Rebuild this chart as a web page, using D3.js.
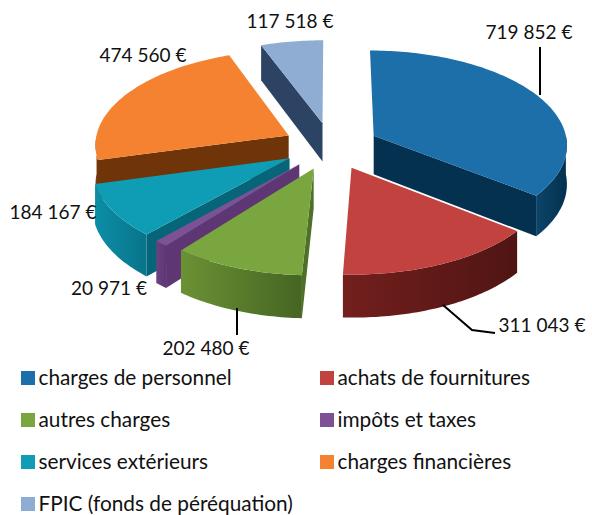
<!DOCTYPE html>
<html>

<head>
    <meta charset="utf-8">
    <script src="https://d3js.org/d3.v7.min.js"></script>
    <style>
        body {
            margin: 0;
            background-color: #ffffff;
        }

        text {
            font-family: Lato, "Open Sans", sans-serif;
            font-size: 19px;
            fill: #111111;
        }

        .legend text {
            font-size: 20.8px;
        }
    </style>
</head>

<body>
    <svg id="canvas" width="592" height="515"></svg>
    <script>
        const categories = ['charges de personnel', 'achats de fournitures', 'autres charges', 'impôts et taxes',
            'services extérieurs', 'charges financières', 'FPIC (fonds de péréquation)'];
        const values = [719852, 311043, 202480, 20971, 184167, 474560, 117518];

        const topColors = ['#1c6fa9', '#c2423f', '#7aa63f', '#7c5295', '#0e9db5', '#f58231', '#8fadd3'];
        const rimLight = ['#0d4468', '#731f1d', '#6b9135', '#6b4282', '#0c8ea6', '#8a4210', '#2f4568'];
        const rimDark = ['#03314f', '#4f1513', '#456522', '#5d3673', '#07748a', '#6f3408', '#2f4568'];
        const wallColors = ['#03314f', '#5a1816', '#4f7028', '#5d3673', '#066578', '#6f3408', '#2d4364'];

        //label anchors, same order as the values
        const labelX = [529, 542, 206, 109, 53, 143, 290];
        const labelY = [39, 332, 355, 295, 219, 62, 28];

        //leader lines for the labels that have one
        const leaders = [
            [[540, 47], [540, 95]],
            [[443, 305], [472, 330], [495, 333]],
            [[237, 308], [237, 335]]
        ];

        const CX = 331;
        const CY = 146;
        const RADIUS = 194;
        const EXPLODE = 48;
        const TILT = 0.49;
        const PERSPECTIVE = 0.085;
        const DEPTH = 39;

        const svg = d3.select('#canvas');
        const defs = svg.append('defs');
        const line = d3.line();
        const euro = d3.formatLocale({ thousands: ' ', grouping: [3], decimal: ',', currency: ['', ' €'] }).format(',');

        //project a point of the pie plane to the screen, things at the front get a bit bigger
        function project(px, py, h) {
            const s = 1 + PERSPECTIVE * py / RADIUS;
            return [CX + px * s, CY + TILT * py * s + h * s];
        }

        function rimPoint(d, a, h) {
            const mid = (d.startAngle + d.endAngle) / 2;
            return project(
                EXPLODE * Math.sin(mid) + RADIUS * Math.sin(a),
                -EXPLODE * Math.cos(mid) - RADIUS * Math.cos(a),
                h
            );
        }

        function apex(d, h) {
            const mid = (d.startAngle + d.endAngle) / 2;
            return project(EXPLODE * Math.sin(mid), -EXPLODE * Math.cos(mid), h);
        }

        function arcPoints(d, from, to, h) {
            const n = Math.max(2, Math.ceil((to - from) / 0.02));
            return d3.range(n + 1).map(i => rimPoint(d, from + (to - from) * i / n, h));
        }

        const slices = d3.pie().sort(null).value(d => d)(values);

        //back to front
        const order = d3.range(slices.length).sort((a, b) => {
            const ma = (slices[a].startAngle + slices[a].endAngle) / 2;
            const mb = (slices[b].startAngle + slices[b].endAngle) / 2;
            return -Math.cos(ma) - -Math.cos(mb);
        });

        order.forEach(i => {
            const d = slices[i];
            const g = svg.append('g');

            const grad = defs.append('linearGradient').attr('id', 'rim' + i);
            grad.append('stop').attr('offset', '0%').attr('stop-color', rimLight[i]);
            grad.append('stop').attr('offset', '100%').attr('stop-color', rimDark[i]);

            //radial walls
            [d.startAngle, d.endAngle].forEach((a, k) => {
                const facing = k === 0 ? Math.sin(a) < 0 : Math.sin(a) > 0;
                if (!facing) return;
                const o = rimPoint(d, a, 0);
                const pts = [apex(d, 0), o, rimPoint(d, a, DEPTH), apex(d, DEPTH)];
                g.append('path').attr('d', line(pts) + 'Z').attr('fill', wallColors[i]);
            });

            //outer rim, only the front half of the circle shows
            const from = Math.max(d.startAngle, Math.PI / 2);
            const to = Math.min(d.endAngle, Math.PI * 1.5);
            if (to > from) {
                const pts = arcPoints(d, from, to, 0).concat(arcPoints(d, from, to, DEPTH).reverse());
                g.append('path').attr('d', line(pts) + 'Z').attr('fill', `url(#rim${i})`);
            }

            //top face
            const top = [apex(d, 0)].concat(arcPoints(d, d.startAngle, d.endAngle, 0));
            g.append('path').attr('d', line(top) + 'Z').attr('fill', topColors[i]);
        });

        //leader lines
        svg.selectAll('.leader')
            .data(leaders)
            .join('path')
            .attr('class', 'leader')
            .attr('d', d => line(d))
            .attr('fill', 'none')
            .attr('stroke', '#000000')
            .attr('stroke-width', 2);

        //value labels
        svg.selectAll('.value')
            .data(values)
            .join('text')
            .attr('class', 'value')
            .attr('x', (d, i) => labelX[i])
            .attr('y', (d, i) => labelY[i])
            .attr('text-anchor', 'middle')
            .text(d => euro(d) + ' €');

        //legend, two columns
        const legend = svg.selectAll('.legend')
            .data(categories)
            .join('g')
            .attr('class', 'legend')
            .attr('transform', (d, i) => `translate(${i % 2 ? 320 : 21},${378 + 42 * Math.floor(i / 2)})`);

        legend.append('rect')
            .attr('y', -7)
            .attr('width', 14)
            .attr('height', 14)
            .attr('fill', (d, i) => topColors[i]);

        legend.append('text')
            .attr('x', 17.5)
            .attr('y', 7)
            .text(d => d);
    </script>
</body>

</html>
